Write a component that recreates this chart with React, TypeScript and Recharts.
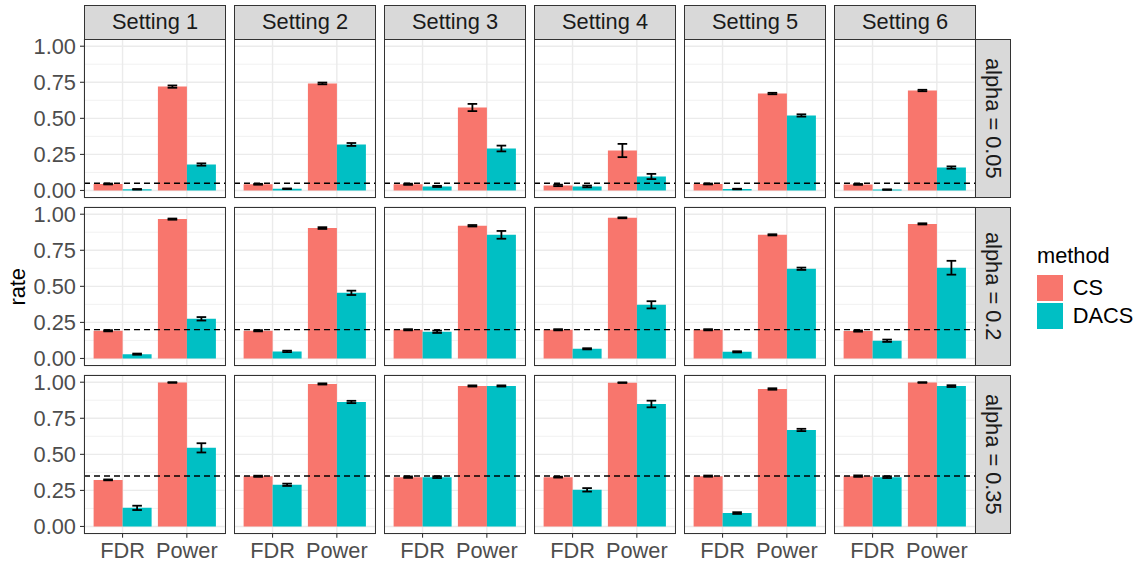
import { BarChart, Bar, XAxis, YAxis, CartesianGrid, ErrorBar, ReferenceLine } from "recharts";

const settings = ["Setting 1", "Setting 2", "Setting 3", "Setting 4", "Setting 5", "Setting 6"];
const alphas = [0.05, 0.2, 0.35];
const metrics = ["FDR", "Power"];
const majorTicks = [0, 0.25, 0.5, 0.75, 1];
const minorTicks = [0.125, 0.375, 0.625, 0.875];

// rows = alpha, columns = setting
const csFdr = [
  [0.045, 0.043, 0.043, 0.035, 0.045, 0.042],
  [0.192, 0.192, 0.199, 0.199, 0.199, 0.19],
  [0.323, 0.348, 0.342, 0.342, 0.349, 0.349],
];
const csFdrErr = [
  [0.003, 0.003, 0.004, 0.005, 0.003, 0.003],
  [0.004, 0.004, 0.004, 0.004, 0.004, 0.004],
  [0.003, 0.004, 0.005, 0.003, 0.004, 0.005],
];
const dacsFdr = [
  [0.008, 0.012, 0.028, 0.028, 0.01, 0.006],
  [0.03, 0.049, 0.185, 0.067, 0.046, 0.123],
  [0.129, 0.289, 0.342, 0.254, 0.093, 0.342],
];
const dacsFdrErr = [
  [0.002, 0.002, 0.004, 0.006, 0.002, 0.002],
  [0.004, 0.005, 0.008, 0.004, 0.004, 0.008],
  [0.015, 0.008, 0.006, 0.012, 0.006, 0.006],
];
const csPower = [
  [0.72, 0.742, 0.575, 0.277, 0.672, 0.693],
  [0.966, 0.904, 0.92, 0.975, 0.857, 0.933],
  [0.998, 0.988, 0.974, 0.997, 0.953, 0.998],
];
const csPowerErr = [
  [0.008, 0.006, 0.025, 0.046, 0.005, 0.005],
  [0.004, 0.006, 0.005, 0.003, 0.004, 0.004],
  [0.002, 0.004, 0.004, 0.002, 0.005, 0.002],
];
const dacsPower = [
  [0.18, 0.319, 0.291, 0.097, 0.52, 0.159],
  [0.275, 0.455, 0.857, 0.372, 0.622, 0.629],
  [0.545, 0.863, 0.974, 0.849, 0.669, 0.973],
];
const dacsPowerErr = [
  [0.008, 0.01, 0.02, 0.018, 0.008, 0.008],
  [0.012, 0.015, 0.027, 0.025, 0.008, 0.048],
  [0.032, 0.008, 0.004, 0.023, 0.008, 0.006],
];

const CS_COLOR = "#F8766D";
const DACS_COLOR = "#00BFC4";
const FONT = "'Liberation Sans', Arial, sans-serif";
const FS = 21.8;

const PANEL_X0 = 84.3;
const PANEL_Y0 = 39.3;
const COL_STEP = 150;
const ROW_STEP = 168;
const PW = 141.4;
const PH = 158.7;
const YW = 50;
const XH = 40;
const PAD = 12;

function panelData(r: number, c: number) {
  return [
    { metric: metrics[0], cs: csFdr[r][c], csErr: csFdrErr[r][c], dacs: dacsFdr[r][c], dacsErr: dacsFdrErr[r][c] },
    { metric: metrics[1], cs: csPower[r][c], csErr: csPowerErr[r][c], dacs: dacsPower[r][c], dacsErr: dacsPowerErr[r][c] },
  ];
}

function Panel({ r, c }: { r: number; c: number }) {
  const left = PANEL_X0 + COL_STEP * c;
  const top = PANEL_Y0 + ROW_STEP * r;
  const showY = c === 0;
  const showX = r === alphas.length - 1;
  const w = PW + (showY ? YW : 0);
  const h = PH + PAD * 2 + (showX ? XH : 0);
  return (
    <>
      <div style={{ position: "absolute", left: left - (showY ? YW : 0), top: top - PAD, width: w, height: h }}>
        <BarChart
          width={w}
          height={h}
          data={panelData(r, c)}
          margin={{ top: PAD, right: 0, bottom: PAD, left: 0 }}
          barCategoryGap="5%"
          barGap={0}
        >
          <CartesianGrid yAxisId="minor" vertical={false} stroke="#EBEBEB" strokeWidth={0.7} />
          <CartesianGrid yAxisId="y" stroke="#EBEBEB" strokeWidth={1.4} />
          <XAxis
            dataKey="metric"
            hide={!showX}
            height={XH}
            padding={{ left: 6.4, right: 6.4 }}
            axisLine={false}
            tickSize={4}
            tickMargin={5}
            tickLine={{ stroke: "#333333", strokeWidth: 1.1 }}
            tick={{ fill: "#4D4D4D", fontSize: FS, fontFamily: FONT }}
            interval={0}
          />
          <YAxis
            yAxisId="y"
            orientation="left"
            hide={!showY}
            width={YW}
            domain={[-0.05, 1.05]}
            ticks={majorTicks}
            interval={0}
            allowDataOverflow
            axisLine={false}
            tickSize={4}
            tickMargin={4}
            tickLine={{ stroke: "#333333", strokeWidth: 1.1 }}
            tick={{ fill: "#4D4D4D", fontSize: FS, fontFamily: FONT }}
            tickFormatter={(v: number) => v.toFixed(2)}
          />
          <YAxis
            yAxisId="minor"
            orientation="right"
            width={0}
            hide
            domain={[-0.05, 1.05]}
            ticks={minorTicks}
            allowDataOverflow
          />
          <Bar yAxisId="y" dataKey="cs" fill={CS_COLOR} isAnimationActive={false}>
            <ErrorBar dataKey="csErr" direction="y" width={4.8} stroke="#000" strokeWidth={1.8} />
          </Bar>
          <Bar yAxisId="y" dataKey="dacs" fill={DACS_COLOR} isAnimationActive={false}>
            <ErrorBar dataKey="dacsErr" direction="y" width={4.8} stroke="#000" strokeWidth={1.8} />
          </Bar>
          <ReferenceLine yAxisId="y" y={alphas[r]} stroke="#000" strokeWidth={1.4} strokeDasharray="6 4" />
        </BarChart>
      </div>
      <div
        style={{
          position: "absolute",
          left,
          top,
          width: PW,
          height: PH,
          border: "1.1px solid #333333",
          boxSizing: "border-box",
          pointerEvents: "none",
        }}
      />
    </>
  );
}

const stripStyle = {
  position: "absolute" as const,
  background: "#D9D9D9",
  border: "1.1px solid #333333",
  boxSizing: "border-box" as const,
  display: "flex",
  alignItems: "center",
  justifyContent: "center",
  color: "#1A1A1A",
  fontSize: FS,
  fontFamily: FONT,
};

export default function App() {
  return (
    <div style={{ position: "absolute", left: 0, top: 0, width: 1141, height: 567, background: "#fff", fontFamily: FONT }}>
      {alphas.map((_, r) => settings.map((__, c) => <Panel key={`${r}-${c}`} r={r} c={c} />))}

      {settings.map((s, c) => (
        <div key={s} style={{ ...stripStyle, left: PANEL_X0 + COL_STEP * c, top: 4.7, width: PW, height: PANEL_Y0 - 4.7 + 1 }}>
          {s}
        </div>
      ))}

      {alphas.map((a, r) => (
        <div
          key={a}
          style={{ ...stripStyle, left: PANEL_X0 + COL_STEP * 5 + PW - 1, top: PANEL_Y0 + ROW_STEP * r, width: 36, height: PH }}
        >
          <span style={{ writingMode: "vertical-rl" }}>{`alpha = ${a}`}</span>
        </div>
      ))}

      <div
        style={{
          position: "absolute",
          left: 4,
          top: 250,
          width: 28,
          height: 74,
          display: "flex",
          alignItems: "center",
          justifyContent: "center",
          fontSize: FS,
          color: "#000",
        }}
      >
        <span style={{ writingMode: "vertical-rl", transform: "rotate(180deg)" }}>rate</span>
      </div>

      <div style={{ position: "absolute", left: 1037, top: 244.9, fontSize: FS, lineHeight: `${FS}px`, color: "#000" }}>
        method
      </div>
      {[
        { name: "CS", color: CS_COLOR, top: 275.3 },
        { name: "DACS", color: DACS_COLOR, top: 303.3 },
      ].map((k) => (
        <div
          key={k.name}
          style={{ position: "absolute", left: 1037.3, top: k.top, height: 25.4, display: "flex", alignItems: "center" }}
        >
          <div style={{ width: 25.4, height: 25.4, background: k.color }} />
          <span style={{ marginLeft: 10, fontSize: FS, color: "#000" }}>{k.name}</span>
        </div>
      ))}
    </div>
  );
}
